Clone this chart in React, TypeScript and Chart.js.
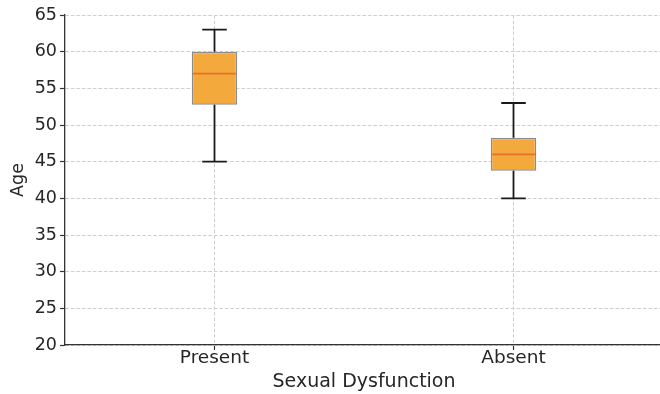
import React, { useEffect, useRef } from "react";
import { Chart, registerables } from "chart.js";

Chart.register(...registerables);

const categories = ["Present", "Absent"];
const whiskerLow = [45, 40];
const q1 = [52.75, 43.75];
const median = [57, 46];
const q3 = [60, 48.25];
const whiskerHigh = [63, 53];
const yTicks = [20, 25, 30, 35, 40, 45, 50, 55, 60, 65];

const FONT = "'DejaVu Sans', sans-serif";
const FS = 17.5;

const boxPlugin = {
  id: "boxWhiskers",
  afterDatasetsDraw(chart: any) {
    const { ctx, scales } = chart;
    const xs = scales.x;
    const ys = scales.y;
    const meta = chart.getDatasetMeta(0);
    categories.forEach((_, i) => {
      const x = xs.getPixelForValue(i);
      const bar = meta.data[i];
      const half = bar.width / 2;
      const capHalf = bar.width * 0.27;
      ctx.save();
      ctx.strokeStyle = "#1a1a1a";
      ctx.lineWidth = 1.8;
      ctx.beginPath();
      ctx.moveTo(x, ys.getPixelForValue(q3[i]));
      ctx.lineTo(x, ys.getPixelForValue(whiskerHigh[i]));
      ctx.moveTo(x, ys.getPixelForValue(q1[i]));
      ctx.lineTo(x, ys.getPixelForValue(whiskerLow[i]));
      const yh = ys.getPixelForValue(whiskerHigh[i]);
      const yl = ys.getPixelForValue(whiskerLow[i]);
      ctx.moveTo(x - capHalf, yh);
      ctx.lineTo(x + capHalf, yh);
      ctx.moveTo(x - capHalf, yl);
      ctx.lineTo(x + capHalf, yl);
      ctx.stroke();
      const ym = ys.getPixelForValue(median[i]);
      ctx.strokeStyle = "#e8702a";
      ctx.lineWidth = 1.6;
      ctx.beginPath();
      ctx.moveTo(x - half + 1, ym);
      ctx.lineTo(x + half - 1, ym);
      ctx.stroke();
      ctx.restore();
    });
  },
};

export default function App() {
  const ref = useRef<HTMLCanvasElement>(null);
  useEffect(() => {
    if (!ref.current) return;
    const chart = new Chart(ref.current, {
      type: "bar",
      data: {
        labels: categories,
        datasets: [
          {
            data: categories.map((_, i) => [q1[i], q3[i]]) as any,
            backgroundColor: "#f3a93c",
            borderColor: "#8c8c8c",
            borderWidth: 1.5,
            borderSkipped: false,
            barPercentage: 0.152,
            categoryPercentage: 1,
          },
        ],
      },
      options: {
        animation: false,
        responsive: true,
        maintainAspectRatio: false,
        layout: { padding: { top: 15, right: 1, left: 0, bottom: 0 } },
        plugins: { legend: { display: false }, tooltip: { enabled: false } },
        scales: {
          x: {
            type: "category",
            offset: true,
            grid: {
              offset: false,
              color: "#cfcfcf",
              lineWidth: 1,
              tickLength: 5,
              tickColor: "#333333",
              tickWidth: 1.2,
            },
            border: { display: true, color: "#333333", width: 1.3, dash: [3.7, 1.8] },
            ticks: { color: "#262626", font: { family: FONT, size: 18.5 }, padding: -2.5 },
            title: {
              display: true,
              text: "Sexual Dysfunction",
              color: "#262626",
              font: { family: FONT, size: 19 },
              padding: { top: 0, bottom: 1 },
            },
            afterFit: (s: any) => {
              s.height = 49;
            },
          },
          y: {
            min: 20,
            max: 65,
            afterBuildTicks: (s: any) => {
              s.ticks = yTicks.map((v) => ({ value: v }));
            },
            grid: {
              color: "#cfcfcf",
              lineWidth: 1,
              tickLength: 5,
              tickColor: "#333333",
              tickWidth: 1.2,
            },
            border: { display: true, color: "#333333", width: 1.3, dash: [3.7, 1.8] },
            ticks: { color: "#262626", font: { family: FONT, size: FS }, padding: 3 },
            title: {
              display: true,
              text: "Age",
              color: "#262626",
              font: { family: FONT, size: FS },
              padding: { top: 7.5, bottom: 0 },
            },
            afterFit: (s: any) => {
              s.width = 65;
            },
          },
        },
      },
      plugins: [boxPlugin],
    });
    return () => chart.destroy();
  }, []);
  return (
    <div style={{ position: "fixed", left: 0, top: 0, width: 664, height: 394, background: "#fff" }}>
      <canvas ref={ref} />
    </div>
  );
}
